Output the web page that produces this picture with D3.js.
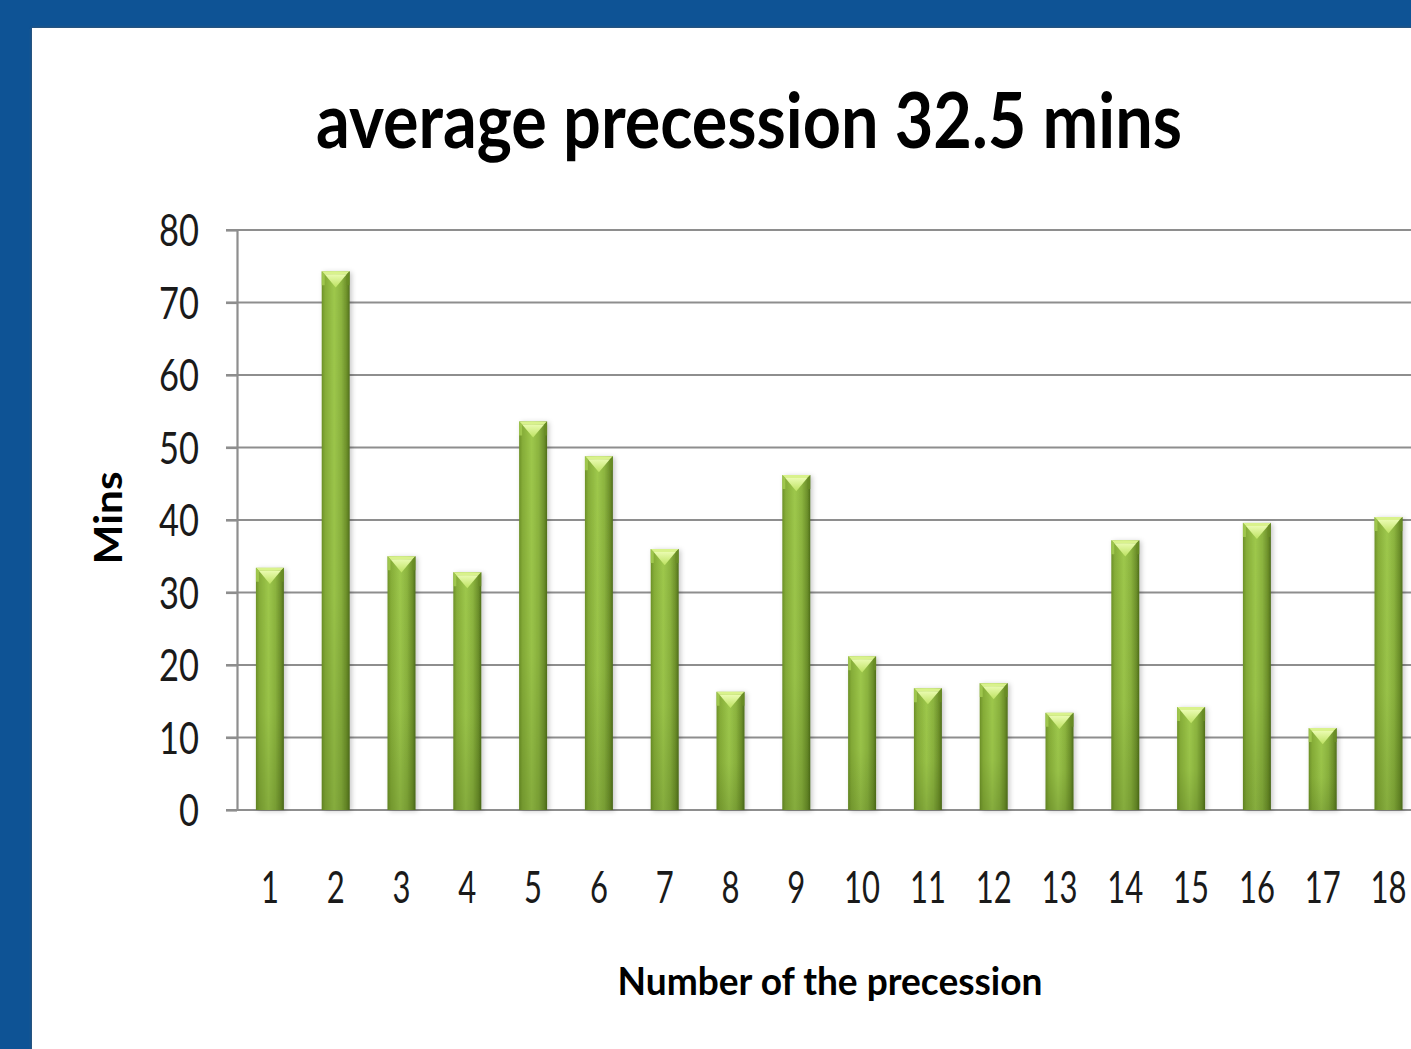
<!DOCTYPE html>
<html>
<head>
<meta charset="utf-8">
<script src="https://cdn.jsdelivr.net/npm/d3@7"></script>
<style>
  html, body { margin: 0; padding: 0; background: #0e5395; overflow: hidden; }
  svg { display: block; }
</style>
</head>
<body>
<svg id="chart" width="1411" height="1049"></svg>
<script>
// Duration of each precession, in minutes
const precessions = ["1","2","3","4","5","6","7","8","9","10","11","12","13","14","15","16","17","18"];
const minutes = [33.4, 74.3, 35.0, 32.8, 53.6, 48.8, 36.0, 16.3, 46.2, 21.2, 16.8, 17.5, 13.4, 37.2, 14.2, 39.6, 11.3, 40.4];
const yTicks = [0, 10, 20, 30, 40, 50, 60, 70, 80];
const titleText = "average precession 32.5 mins";
const yTitle = "Mins";
const xTitle = "Number of the precession";

const W = 1411, H = 1049;
const svg = d3.select("#chart");

const defs = svg.append("defs");

// panel shadow
const panelShadow = defs.append("filter").attr("id", "panelShadow")
  .attr("x", "-5%").attr("y", "-5%").attr("width", "110%").attr("height", "110%");
panelShadow.append("feDropShadow").attr("dx", 0).attr("dy", 0)
  .attr("stdDeviation", 1.6).attr("flood-color", "#555").attr("flood-opacity", 0.9);

// bar body: rounded, lit from the left
const barGrad = defs.append("linearGradient").attr("id", "barGrad")
  .attr("x1", "0").attr("x2", "1").attr("y1", "0").attr("y2", "0");
[[0, "#6d9128"], [0.12, "#86ad38"], [0.45, "#9ec84c"], [0.7, "#8cb43f"], [0.9, "#6c8f2a"], [1, "#4f6d1b"]]
  .forEach(([o, c]) => barGrad.append("stop").attr("offset", o).attr("stop-color", c));

// darkening towards the foot of each bar
const barShade = defs.append("linearGradient").attr("id", "barShade")
  .attr("x1", "0").attr("x2", "0").attr("y1", "0").attr("y2", "1");
barShade.append("stop").attr("offset", 0).attr("stop-color", "#2f4a0a").attr("stop-opacity", 0);
barShade.append("stop").attr("offset", 0.6).attr("stop-color", "#2f4a0a").attr("stop-opacity", 0.05);
barShade.append("stop").attr("offset", 1).attr("stop-color", "#2f4a0a").attr("stop-opacity", 0.22);

// bevel at the top of each bar
const capGrad = defs.append("linearGradient").attr("id", "capGrad")
  .attr("x1", "0").attr("x2", "0").attr("y1", "0").attr("y2", "1");
capGrad.append("stop").attr("offset", 0).attr("stop-color", "#eafbb0");
capGrad.append("stop").attr("offset", 1).attr("stop-color", "#bde262");

const barShadow = defs.append("filter").attr("id", "barShadow")
  .attr("x", "-40%").attr("y", "-10%").attr("width", "180%").attr("height", "120%");
barShadow.append("feDropShadow").attr("dx", 2).attr("dy", 1)
  .attr("stdDeviation", 2.5).attr("flood-color", "#000").attr("flood-opacity", 0.22);

// white chart panel
svg.append("rect")
  .attr("x", 32).attr("y", 28).attr("width", W + 20).attr("height", H + 20)
  .attr("fill", "#ffffff").attr("filter", "url(#panelShadow)");

// plot area
const plotLeft = 237, plotTop = 230, plotBottom = 810;
const step = 65.8;
const x = d3.scaleBand().domain(precessions)
  .range([plotLeft, plotLeft + precessions.length * step])
  .paddingInner(0.575).paddingOuter(0.2875);
const y = d3.scaleLinear().domain([0, 80]).range([plotBottom, plotTop]);

const tickFont = "Lato, 'Open Sans', sans-serif";

// horizontal gridlines
svg.append("g").selectAll("line").data(yTicks).join("line")
  .attr("x1", plotLeft - 11).attr("x2", W + 20)
  .attr("y1", d => y(d)).attr("y2", d => y(d))
  .attr("stroke", "#8e8e8e").attr("stroke-width", 2.2);

// y axis
const yAxis = svg.append("g").attr("transform", `translate(${plotLeft},0)`)
  .call(d3.axisLeft(y).tickValues(yTicks).tickSizeInner(11).tickSizeOuter(0).tickPadding(27));
yAxis.select(".domain").attr("stroke", "#8e8e8e").attr("stroke-width", 2.2);
yAxis.selectAll(".tick line").attr("stroke", "#8e8e8e").attr("stroke-width", 2.2);
yAxis.selectAll(".tick text")
  .attr("font-family", tickFont).attr("font-size", 44).attr("fill", "#1a1a1a")
  .attr("dy", "0.36em")
  .attr("textLength", d => String(d).length * 20).attr("lengthAdjust", "spacingAndGlyphs");

// bars
const bars = svg.append("g").selectAll("g").data(minutes).join("g")
  .attr("transform", (d, i) => `translate(${x(precessions[i])},${y(d)})`);
const bw = x.bandwidth();
bars.append("rect")
  .attr("width", bw).attr("height", d => plotBottom - y(d))
  .attr("fill", "url(#barGrad)").attr("filter", "url(#barShadow)");
bars.append("rect")
  .attr("width", bw).attr("height", d => plotBottom - y(d))
  .attr("fill", "url(#barShade)");
// bevel: light top strip, side facets and downward chevron
bars.append("path")
  .attr("d", `M0,0 L${bw},0 L${bw - 3},3 L3,3 Z`).attr("fill", "#d9f28c");
bars.append("path")
  .attr("d", `M0,0 L3,3 L3,${bw * 0.5} L0,${bw * 0.5} Z`).attr("fill", "#a7cf54").attr("opacity", 0.8);
bars.append("path")
  .attr("d", `M${bw},0 L${bw - 3},3 L${bw - 3},${bw * 0.5} L${bw},${bw * 0.5} Z`).attr("fill", "#6a8f25").attr("opacity", 0.8);
bars.append("path")
  .attr("d", `M3,3 L${bw - 3},3 L${bw / 2},${3 + bw * 0.47} Z`).attr("fill", "url(#capGrad)");

// x axis labels
const xAxis = svg.append("g").attr("transform", `translate(0,${plotBottom})`)
  .call(d3.axisBottom(x).tickSize(0).tickPadding(62));
xAxis.select(".domain").remove();
xAxis.selectAll(".tick text")
  .attr("font-family", tickFont).attr("font-size", 44).attr("fill", "#1a1a1a")
  .attr("dy", "0.71em")
  .attr("textLength", d => d.length * 18).attr("lengthAdjust", "spacingAndGlyphs");

// titles
svg.append("text")
  .attr("x", 749).attr("y", 148).attr("text-anchor", "middle")
  .attr("font-family", "Lato, 'Open Sans', sans-serif").attr("font-weight", "bold")
  .attr("font-size", 76).attr("fill", "#000")
  .attr("textLength", 866).attr("lengthAdjust", "spacingAndGlyphs")
  .text(titleText);

svg.append("text")
  .attr("transform", "translate(122,518) rotate(-90)").attr("text-anchor", "middle")
  .attr("font-family", "Lato, 'Open Sans', sans-serif").attr("font-weight", "bold")
  .attr("font-size", 39).attr("fill", "#000")
  .attr("textLength", 93).attr("lengthAdjust", "spacingAndGlyphs")
  .text(yTitle);

svg.append("text")
  .attr("x", 830).attr("y", 995).attr("text-anchor", "middle")
  .attr("font-family", "Lato, 'Open Sans', sans-serif").attr("font-weight", "bold")
  .attr("font-size", 39).attr("fill", "#000")
  .attr("textLength", 425).attr("lengthAdjust", "spacingAndGlyphs")
  .text(xTitle);
</script>
</body>
</html>
